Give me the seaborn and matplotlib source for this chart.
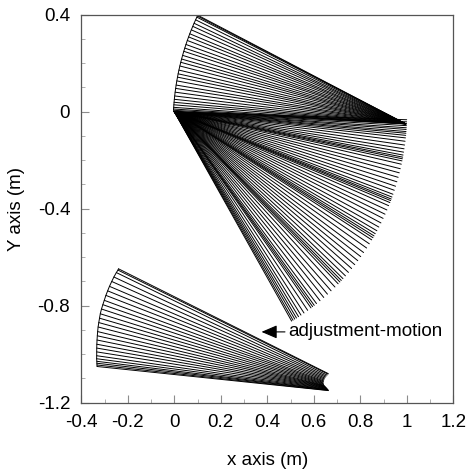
import numpy as np
import pandas as pd
import matplotlib
matplotlib.use("Agg")
import matplotlib.pyplot as plt
import seaborn as sns

# ---------------- data ----------------
# Fan A: upper fan, link rotating about an elbow near (1, -0.05)
FAN_A_PIVOT = (0.995, -0.05)
FAN_A_LENGTH = 1.0
FAN_A_ANGLES = [153.4, 153.6, 153.9, 154.6, 155.5, 156.3, 157.2, 158.2, 159.0,
                159.9, 160.9, 161.8, 162.6, 163.6, 164.5, 165.3, 166.2, 167.2,
                168.1, 168.9, 169.8, 170.8, 171.6, 172.5, 173.4, 174.2, 174.9,
                175.5, 176.1, 176.5, 176.8]

# Fan B: links folded, rotating about the origin
FAN_B_PIVOT = (0.0, 0.0)
FAN_B_LENGTH = 1.0
FAN_B_ANGLES = [-1.9, -2.4, -2.9, -3.3, -3.8, -4.2, -4.7, -5.1, -5.6, -6.2,
                -7.0, -7.9, -8.8, -9.6, -10.3, -10.8, -11.2, -11.7, -12.5,
                -13.6, -14.6, -15.7, -16.8, -17.9, -18.9, -19.9, -20.6, -21.1,
                -21.5, -22.0, -22.8, -23.9, -25.0, -26.1, -27.3, -28.4, -29.4,
                -30.2, -30.8, -31.3, -31.9, -33.0, -34.2, -35.5, -36.7, -37.9,
                -39.1, -40.3, -41.5, -42.6, -43.5, -44.1, -44.6, -45.2, -46.3,
                -47.6, -48.8, -50.0, -51.2, -52.3, -53.0, -53.5, -54.0, -55.0,
                -56.1, -57.0, -57.7, -58.3, -58.8, -59.3, -59.7]

# Fan C: lower-left fan (adjustment motion)
FAN_C_LENGTH = 1.0
FAN_C_ANGLES = [154.4, 154.6, 155.0, 155.9, 156.8, 157.8, 158.7, 159.6, 160.6,
                161.5, 162.4, 163.4, 164.3, 165.2, 166.1, 167.1, 168.0, 168.9,
                169.8, 170.6, 171.4, 172.2, 172.8, 173.3, 173.7, 174.0, 174.3]
FAN_C_ELBOW_X = [0.662, 0.661, 0.657, 0.653, 0.650, 0.647, 0.645, 0.643, 0.642,
                 0.641, 0.640, 0.640, 0.641, 0.642, 0.643, 0.645, 0.647, 0.649,
                 0.651, 0.653, 0.655, 0.657, 0.658, 0.660, 0.661, 0.662, 0.663]
FAN_C_ELBOW_Y = [-1.080, -1.082, -1.086, -1.090, -1.094, -1.098, -1.102,
                 -1.106, -1.110, -1.113, -1.116, -1.119, -1.122, -1.125,
                 -1.128, -1.130, -1.132, -1.134, -1.136, -1.138, -1.140,
                 -1.142, -1.144, -1.146, -1.147, -1.149, -1.150]

X_TICKS = [-0.4, -0.2, 0.0, 0.2, 0.4, 0.6, 0.8, 1.0, 1.2]
X_TICK_LABELS = ["-0.4", "-0.2", "0", "0.2", "0.4", "0.6", "0.8", "1", "1.2"]
Y_TICKS = [-1.2, -0.8, -0.4, 0.0, 0.4]
Y_TICK_LABELS = ["-1.2", "-0.8", "-0.4", "0", "0.4"]
X_MINOR = [-0.3, -0.1, 0.1, 0.3, 0.5, 0.7, 0.9, 1.1]
Y_MINOR = [-1.1, -1.0, -0.9, -0.7, -0.6, -0.5, -0.3, -0.2, -0.1, 0.1, 0.2, 0.3]

ANNOT_TEXT = "adjustment-motion"
ANNOT_TIP = (0.375, -0.908)
ANNOT_TEXT_POS = (0.49, -0.908)

# ---------------- build segments ----------------
rows = []
seg = 0
def add_fan(name, px, py, angles, length):
    global seg
    tips = []
    for i, a in enumerate(angles):
        x0, y0 = px[i], py[i]
        t = np.deg2rad(a)
        x1, y1 = x0 + length * np.cos(t), y0 + length * np.sin(t)
        rows.append(dict(seg=seg, fan=name, x=x0, y=y0, order=0))
        rows.append(dict(seg=seg, fan=name, x=x1, y=y1, order=1))
        tips.append((x1, y1))
        seg += 1
    return tips

tipsA = add_fan("A", [FAN_A_PIVOT[0]] * len(FAN_A_ANGLES),
                [FAN_A_PIVOT[1]] * len(FAN_A_ANGLES), FAN_A_ANGLES, FAN_A_LENGTH)
add_fan("B", [FAN_B_PIVOT[0]] * len(FAN_B_ANGLES),
        [FAN_B_PIVOT[1]] * len(FAN_B_ANGLES), FAN_B_ANGLES, FAN_B_LENGTH)
tipsC = add_fan("C", FAN_C_ELBOW_X, FAN_C_ELBOW_Y, FAN_C_ANGLES, FAN_C_LENGTH)
df = pd.DataFrame(rows)

path_rows = []
for name, tips in (("A", tipsA), ("C", tipsC)):
    for k, (x, y) in enumerate(tips):
        path_rows.append(dict(path=name, x=x, y=y, k=k))
paths = pd.DataFrame(path_rows)

# ---------------- plot ----------------
sns.set_theme(style="white")
plt.rcParams["font.family"] = ["Liberation Sans", "DejaVu Sans"]

fig = plt.figure(figsize=(4.67, 4.71), dpi=100)
ax = fig.add_axes([0.1741, 0.145, 0.7966, 0.8238])

sns.lineplot(data=df, x="x", y="y", units="seg", estimator=None, sort=False,
             color="black", linewidth=0.7, ax=ax, legend=False)
sns.lineplot(data=paths, x="x", y="y", units="path", estimator=None, sort=False,
             color="black", linewidth=0.7, ax=ax, legend=False)

ax.annotate(ANNOT_TEXT, xy=ANNOT_TIP, xytext=ANNOT_TEXT_POS,
            fontsize=13.6, va="center", ha="left", color="black",
            arrowprops=dict(arrowstyle="-|>,head_length=0.7,head_width=0.3",
                            color="black", lw=0.8, shrinkA=0, shrinkB=0))

ax.set_xlim(-0.4, 1.2)
ax.set_ylim(-1.2, 0.4)
ax.set_xticks(X_TICKS)
ax.set_xticklabels(X_TICK_LABELS)
ax.set_yticks(Y_TICKS)
ax.set_yticklabels(Y_TICK_LABELS)
ax.set_xticks(X_MINOR, minor=True)
ax.set_yticks(Y_MINOR, minor=True)
ax.tick_params(which="major", direction="in", length=6, width=0.8,
               color="#8c8c8c", labelsize=13.5, labelcolor="black", pad=8,
               bottom=True, left=True, top=False, right=False)
ax.tick_params(which="minor", direction="in", length=3, width=0.6,
               color="#a0a0a0", bottom=True, left=True, top=False, right=False)

for s in ax.spines.values():
    s.set_visible(True)
    s.set_color("#555555")
    s.set_linewidth(0.9)

ax.set_xlabel("x axis (m)", fontsize=13.5, labelpad=15, color="black")
ax.set_ylabel("Y axis (m)", fontsize=13.5, labelpad=9, color="black")
ax.grid(False)

fig.savefig("out.png", dpi=100, facecolor="white")
